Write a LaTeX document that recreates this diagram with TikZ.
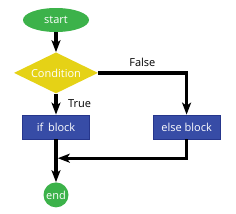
\documentclass[tikz,border=0pt]{standalone}
\usepackage{fontspec}
\setmainfont{Open Sans}
\usetikzlibrary{arrows.meta,positioning,shapes.geometric}
\definecolor{termgreen}{RGB}{60,178,74}
\definecolor{condyellow}{RGB}{229,210,22}
\definecolor{blockblue}{RGB}{55,76,166}
\definecolor{blockedge}{RGB}{38,54,140}
\begin{document}
\begin{tikzpicture}[x=1pt,y=1pt,>={Stealth[length=12pt,width=9pt,inset=3pt]},node distance=20pt and 62pt,font=\fontsize{11}{13}\selectfont,
  terminal/.style={ellipse,fill=termgreen,text=white,minimum width=66pt,minimum height=24pt,inner sep=0pt},
  endpoint/.style={circle,fill=termgreen,text=white,minimum size=25pt,inner sep=0pt},
  decision/.style={diamond,fill=condyellow,text=white,minimum width=84pt,minimum height=41pt,inner sep=0pt,aspect=2},
  block/.style={rectangle,fill=blockblue,draw=blockedge,line width=0.6pt,text=white,minimum width=67pt,minimum height=24pt,inner sep=0pt},
  flow/.style={->,line width=3.4pt}]
\useasboundingbox (0,0) rectangle (236,-214);
\node[terminal] (start) at (56,-20) {start};
\node[decision, below=20pt of start] (cond) {Condition};
\node[block, below=21pt of cond] (ifb) {if\, block};
\node[block, right=63pt of ifb] (elseb) {else block};
\node[endpoint, below=43pt of ifb] (end) {end};
\coordinate[below=19pt of ifb.south, xshift=1.8pt] (merge);
\draw[flow] (start) -- (cond);
\draw[flow] (cond) -- node[right=7pt,text=black] {True} (ifb);
\draw[flow] (cond.east) -| node[pos=0.25,above=1pt,text=black] {False} (elseb.north);
\draw[flow] (ifb) -- (end);
\draw[flow] (elseb.south) |- (merge);
\end{tikzpicture}
\end{document}
